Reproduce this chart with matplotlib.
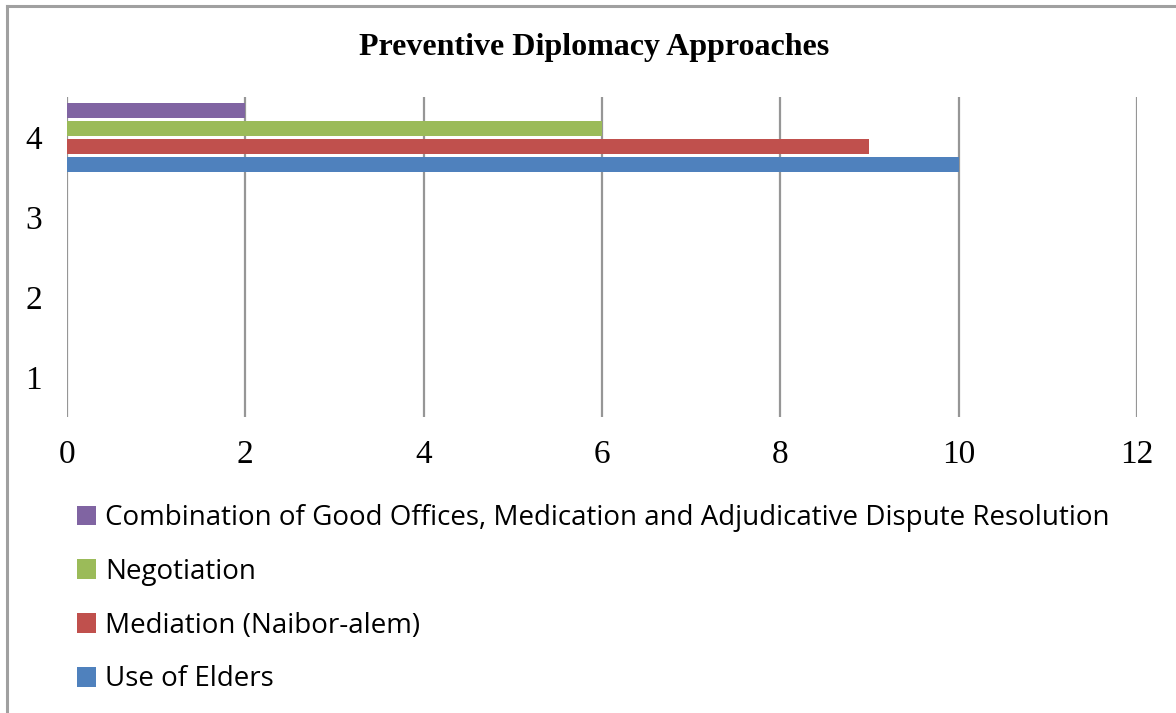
import numpy as np
import matplotlib.pyplot as plt
from matplotlib.lines import Line2D

# survey responses per approach (only category 4 has counts)
categories = [1, 2, 3, 4]
series_names = ['Use of Elders', 'Mediation (Naibor-alem)', 'Negotiation',
                'Combination of Good Offices, Medication and Adjudicative Dispute Resolution']
series_values = [
    [0, 0, 0, 10],
    [0, 0, 0, 9],
    [0, 0, 0, 6],
    [0, 0, 0, 2],
]
colors = ['#4F81BD', '#C0504D', '#9BBB59', '#8064A2']
x_ticks = [0, 2, 4, 6, 8, 10, 12]

fig = plt.figure(figsize=(11.76, 7.13), dpi=100)
ax = fig.add_axes([67/1176, 1-417/713, (1137-67)/1176, 320/713])

y = np.array(categories, dtype=float)
pitch = 0.225
height = 0.1875
n = len(series_names)
for i, (name, vals, c) in enumerate(zip(series_names, series_values, colors)):
    off = (i - (n - 1) / 2) * pitch
    ax.barh(y + off, vals, height=height, color=c, label=name, zorder=3)

ax.set_xlim(0, 12)
ax.set_ylim(0.5, 4.5)
ax.set_xticks(x_ticks)
ax.set_yticks(categories)
ax.grid(axis='x', color='#969696', linewidth=1.6, zorder=0)
for s in ax.spines.values():
    s.set_visible(False)
ax.tick_params(length=0, labelsize=24)
ax.tick_params(axis='x', pad=16)
ax.tick_params(axis='y', pad=18)
for lab in ax.get_xticklabels() + ax.get_yticklabels():
    lab.set_fontfamily('Liberation Serif')

fig.text(594/1176, 1-47/713, 'Preventive Diplomacy Approaches', ha='center', va='center',
         fontsize=23, fontweight='bold', family='Liberation Serif')

handles, labels = ax.get_legend_handles_labels()
leg = fig.legend(handles[::-1], labels[::-1], loc='upper left',
                 bbox_to_anchor=(52/1176, 1-479/713), frameon=False,
                 prop={'family': 'Open Sans', 'size': 20},
                 handlelength=0.7, handleheight=0.7, handletextpad=0.3,
                 labelspacing=0.93)

# outer frame of the chart area
fig.add_artist(Line2D([7/1176, 7/1176], [0, 1-6/713], color='#a0a0a0', linewidth=2.2))
fig.add_artist(Line2D([7/1176, 1], [1-6/713, 1-6/713], color='#a0a0a0', linewidth=2.2))

fig.savefig('out.png', dpi=100)
